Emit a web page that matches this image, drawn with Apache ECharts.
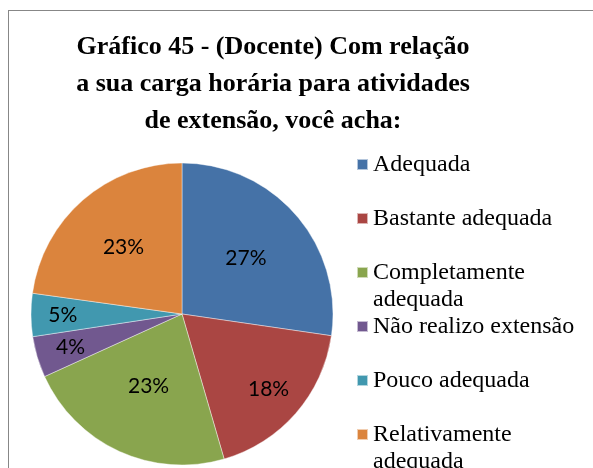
<!DOCTYPE html>
<html>
<head>
<meta charset="utf-8">
<script src="https://cdn.jsdelivr.net/npm/echarts@6/dist/echarts.min.js"></script>
<style>
  html, body { margin: 0; padding: 0; background: #fff; }
  #frame { position: absolute; left: 8px; top: 10px; width: 600px; height: 470px;
           border-top: 1px solid #878787; border-left: 1px solid #878787; }
  #main { position: absolute; left: 0; top: 0; width: 593px; height: 468px; }
</style>
</head>
<body>
<div id="frame"></div>
<div id="main"></div>
<script>
	// dados do gráfico
	var categorias = ['Adequada', 'Bastante adequada', 'Completamente adequada',
		'Não realizo extensão', 'Pouco adequada', 'Relativamente adequada'];
	var valores = [27.3, 18.2, 22.7, 4.4, 4.6, 22.8];
	var cores = ['#4572A7', '#AA4643', '#89A54E', '#71588F', '#4198AF', '#DB843D'];
	// distância do rótulo ao centro (fração do raio), como o "melhor ajuste" do Excel
	var distRotulo = [0.56, 0.76, 0.53, 0.77, 0.79, 0.59];

	var serif = "'Liberation Serif', 'Times New Roman', serif";
	var centro = [182, 314];
	var raio = 151;
	var myChart = echarts.init(document.getElementById('main'));

	var dados = [];
	var total = 0;
	for (var i = 0; i < categorias.length; i++) {
		dados.push({ name: categorias[i], value: valores[i] });
		total += valores[i];
	}

	// quebra o texto da legenda em linhas de no máximo "largura" px
	var ctx = document.createElement('canvas').getContext('2d');
	ctx.font = '24px ' + serif;
	function quebrar(texto, largura) {
		var palavras = texto.split(' ');
		var linhas = [];
		var atual = '';
		for (var k = 0; k < palavras.length; k++) {
			var teste = atual ? atual + ' ' + palavras[k] : palavras[k];
			if (atual && ctx.measureText(teste).width > largura) {
				linhas.push(atual);
				atual = palavras[k];
			} else {
				atual = teste;
			}
		}
		linhas.push(atual);
		return linhas.join('\n');
	}

	// uma legenda por item, com passo fixo (como no Excel)
	var legendas = [];
	for (var j = 0; j < categorias.length; j++) {
		legendas.push({
			orient: 'vertical',
			left: 356,
			top: 151 + j * 54,
			padding: 0,
			itemWidth: 11,
			itemHeight: 11,
			icon: 'rect',
			selectedMode: false,
			formatter: function (name) { return '{t|' + quebrar(name, 215) + '}'; },
			textStyle: {
				fontFamily: serif,
				fontSize: 24,
				lineHeight: 27,
				height: 27,
				color: '#000',
				rich: { t: { fontFamily: serif, fontSize: 24, lineHeight: 27, color: '#000' } }
			},
			data: [categorias[j]]
		});
	}

	var option = {
		color: cores,
		title: {
			text: 'Gráfico 45 - (Docente) Com relação\na sua carga horária para atividades\nde extensão, você acha:',
			left: 268,
			textAlign: 'center',
			top: 24,
			textStyle: {
				fontFamily: serif,
				fontWeight: 'bold',
				fontSize: 26,
				lineHeight: 37,
				color: '#000'
			}
		},
		legend: legendas,
		series: [{
			type: 'pie',
			center: centro,
			radius: raio,
			startAngle: 90,
			clockwise: true,
			label: {
				show: true,
				position: 'inside',
				fontFamily: 'Lato',
				fontSize: 21,
				color: '#000',
				formatter: function (p) { return Math.round(p.value) + '%'; }
			},
			labelLayout: function (p) {
				var acum = 0;
				for (var k = 0; k < p.dataIndex; k++) acum += valores[k];
				var meio = (acum + valores[p.dataIndex] / 2) / total * Math.PI * 2;
				var d = distRotulo[p.dataIndex] * raio;
				return {
					x: centro[0] + d * Math.sin(meio),
					y: centro[1] - d * Math.cos(meio),
					align: 'center',
					verticalAlign: 'middle'
				};
			},
			labelLine: { show: false },
			itemStyle: { borderColor: 'rgba(255,255,255,0.6)', borderWidth: 0.7 },
			emphasis: { disabled: true },
			data: dados
		}]
	};
	myChart.setOption(option);
</script>
</body>
</html>
